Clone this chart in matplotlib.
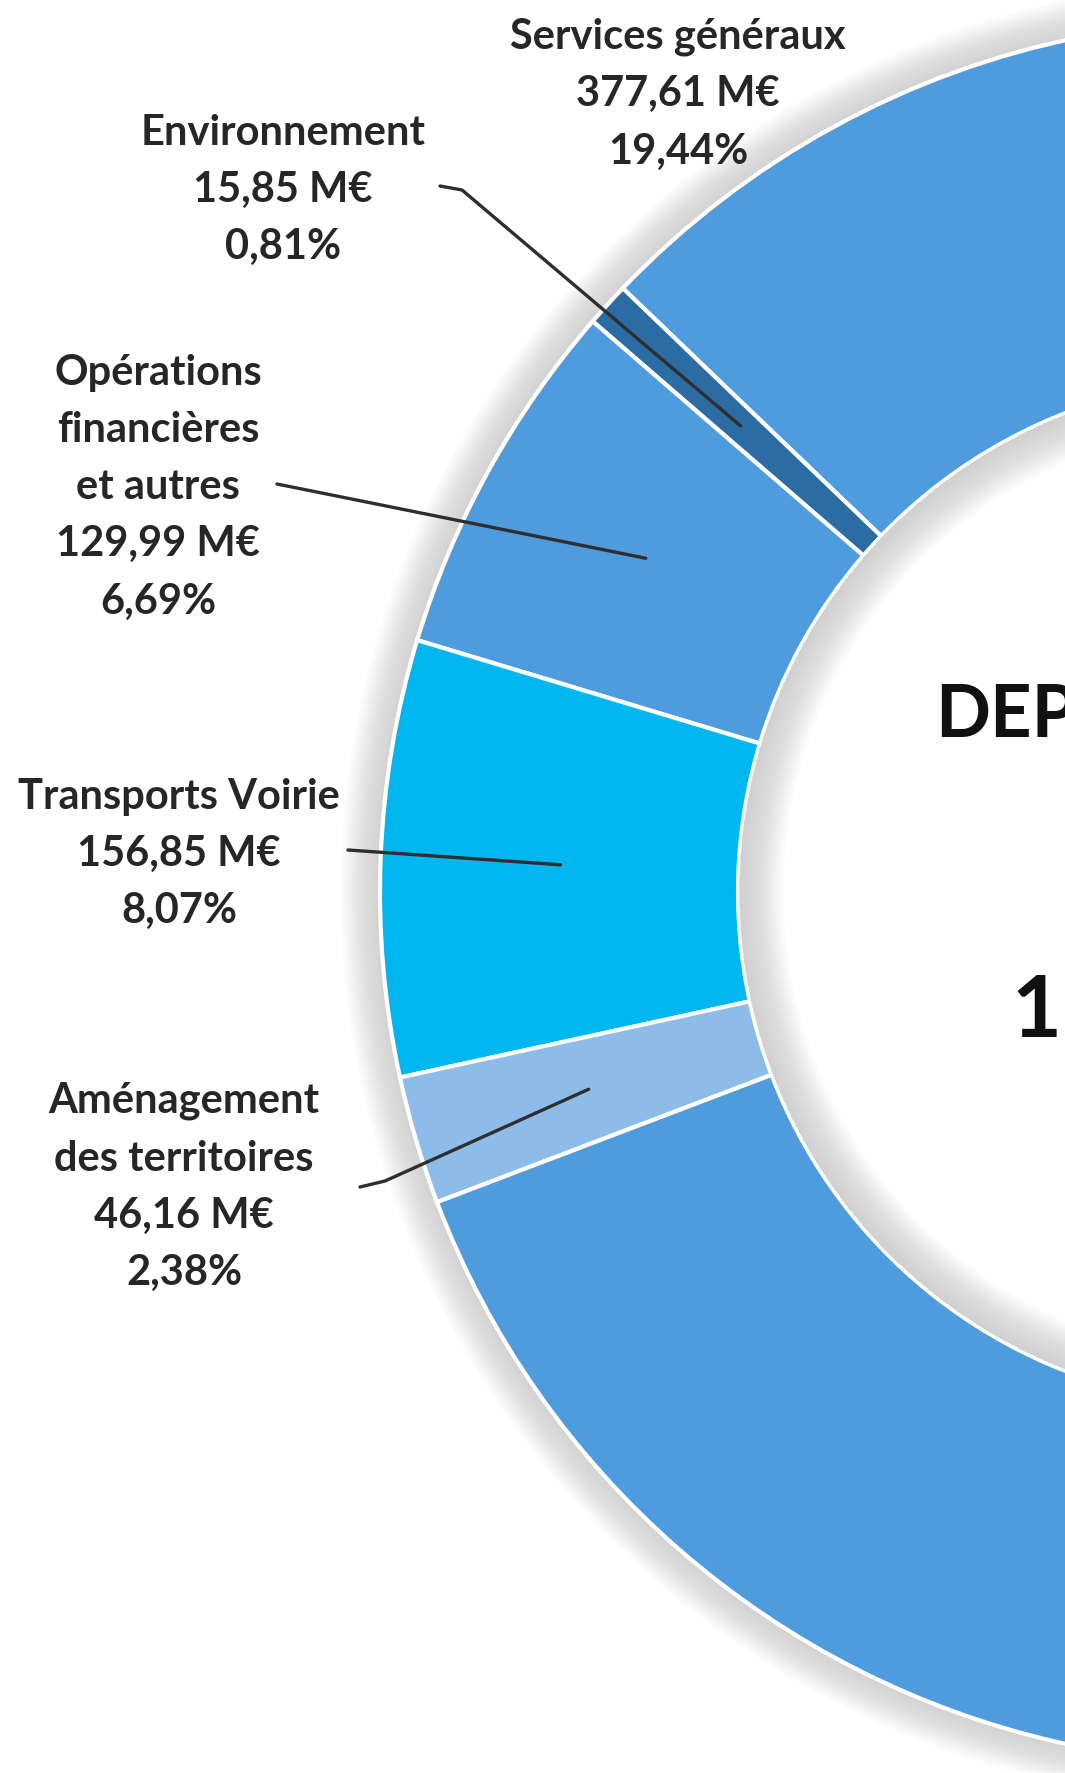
import numpy as np
import matplotlib.pyplot as plt
from matplotlib.patches import Circle, Wedge

# budget data (M€ and share of total)
categories = ['Services généraux', 'Environnement', 'Opérations\nfinancières\net autres',
              'Transports Voirie', 'Aménagement\ndes territoires', '']
amounts = [377.61, 15.85, 129.99, 156.85, 46.16, 1216.0]
amount_txt = ['377,61 M€', '15,85 M€', '129,99 M€', '156,85 M€', '46,16 M€', '']
share_txt = ['19,44%', '0,81%', '6,69%', '8,07%', '2,38%', '']
colors = ['#4e9bdd', '#2b6ca3', '#4e9bdd', '#00b6ef', '#8dbce8', '#4e9bdd']

W, H = 1065, 1773
cx, cy = 1252, H - 892
R, r_in = 872, 514

fig = plt.figure(figsize=(W / 100, H / 100), dpi=100)
ax = fig.add_axes([0, 0, 1, 1])

# soft shadow outside the ring
for d in np.linspace(40, 0, 30):
    ax.add_patch(Circle((cx, cy), R + d, color='#8a8a8a', alpha=0.011, lw=0, zorder=0))

wedges, _ = ax.pie(amounts, colors=colors, startangle=66.2, counterclock=True,
                   radius=R, center=(cx, cy),
                   wedgeprops=dict(width=R - r_in, edgecolor='white', linewidth=3))

# white hole with shading near its edge
ax.add_patch(Circle((cx, cy), r_in - 1.5, color='white', lw=0, zorder=2))
for d in np.linspace(3, 45, 30):
    ax.add_patch(Wedge((cx, cy), r_in - 1.5, 0, 360, width=d, color='#8a8a8a',
                       alpha=0.011, lw=0, zorder=3))

# labels (text center x, block center y in image px) and leader start points
label_pos = [(678, 94), (283, 190), (158, 487), (179, 854), (184, 1187)]
leader_start = [None, [(440, 186), (462, 190)], [(277, 484)], [(348, 850)],
                [(360, 1187), (385, 1181)]]

for i, (lx, ly) in enumerate(label_pos):
    txt = categories[i] + '\n' + amount_txt[i] + '\n' + share_txt[i]
    ax.text(lx, H - ly, txt, ha='center', va='center',
            fontsize=30, fontweight='bold', family='Lato', color='#262626',
            linespacing=1.62, zorder=5)
    if leader_start[i] is None:
        continue
    w = wedges[i]
    mid = np.deg2rad((w.theta1 + w.theta2) / 2)
    ex, ey = cx + 692 * np.cos(mid), cy + 692 * np.sin(mid)
    xs = [p[0] for p in leader_start[i]] + [ex]
    ys = [H - p[1] for p in leader_start[i]] + [ey]
    ax.plot(xs, ys, color='#2e2e2e', lw=2.4, zorder=6, solid_capstyle='round')

# centre title (cut by the right edge, as in the original)
ax.text(935, H - 738, 'DEPENSES', ha='left', va='baseline', fontsize=52,
        fontweight='bold', family='Lato', color='#111111', zorder=5)
ax.text(1012, H - 1037, '1 942,46 M€', ha='left', va='baseline', fontsize=62,
        fontweight='bold', family='Lato', color='#111111', zorder=5)

ax.set_xlim(0, W)
ax.set_ylim(0, H)
ax.set_aspect('auto')
ax.axis('off')
fig.savefig('out.png', dpi=100, facecolor='white')
